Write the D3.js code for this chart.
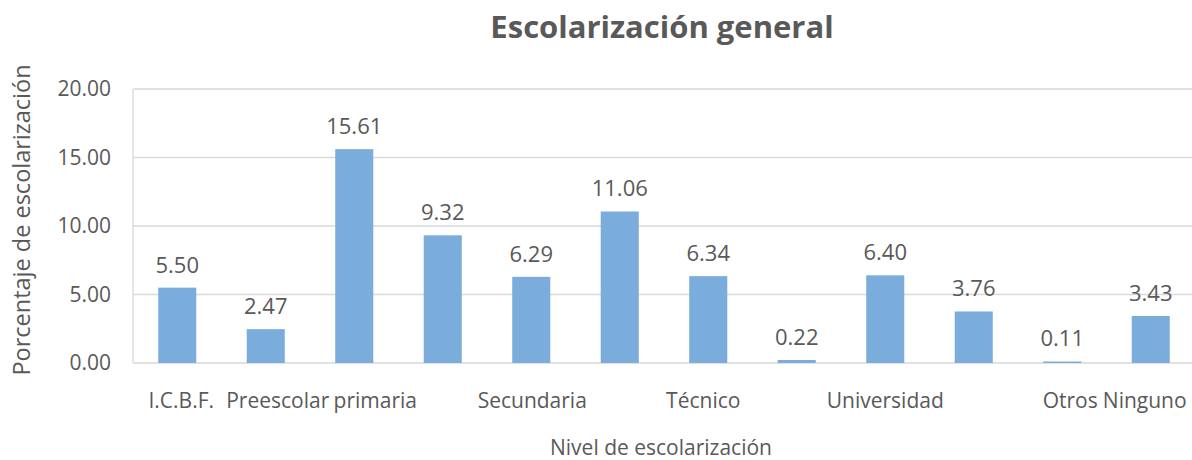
<!DOCTYPE html>
<html>
<head>
<meta charset="utf-8">
<script src="https://cdn.jsdelivr.net/npm/d3@7"></script>
<style>
body { margin: 0; background: #fff; }
text { font-family: "Open Sans", Lato, sans-serif; fill: #595959; }
</style>
</head>
<body>
<svg id="chart" width="1192" height="460"></svg>
<script>
// categorias (las vacias no muestran etiqueta en el original)
var categories = ["I.C.B.F.", "Preescolar", "primaria", "", "Secundaria", "", "Técnico", "", "Universidad", "", "Otros", "Ninguno"];
var values = [5.50, 2.47, 15.61, 9.32, 6.29, 11.06, 6.34, 0.22, 6.40, 3.76, 0.11, 3.43];
var yTicks = [0, 5, 10, 15, 20];

var svg = d3.select("#chart"),
    margin = {top: 89, left: 133},
    plotW = 1062,
    plotH = 274;

var g = svg.append("g")
    .attr("transform", "translate(" + margin.left + "," + margin.top + ")");

var x = d3.scaleBand()
    .domain(d3.range(values.length))
    .range([0, plotW])
    .paddingInner(0.57)
    .paddingOuter(0.285);

var y = d3.scaleLinear()
    .domain([0, 20])
    .range([plotH, 0]);

// grid
g.selectAll(".grid")
    .data(yTicks)
    .enter().append("line")
    .attr("x1", 0)
    .attr("x2", plotW)
    .attr("y1", function(d) { return y(d); })
    .attr("y2", function(d) { return y(d); })
    .attr("stroke", "#d9d9d9")
    .attr("stroke-width", 1.3);

g.append("line")
    .attr("x1", 0).attr("x2", 0)
    .attr("y1", 0).attr("y2", plotH)
    .attr("stroke", "#d9d9d9")
    .attr("stroke-width", 1.3);

// y axis labels
var yAxis = d3.axisLeft(y)
    .tickValues(yTicks)
    .tickFormat(d3.format(".2f"))
    .tickSize(0)
    .tickPadding(22);

g.append("g")
    .call(yAxis)
    .call(function(a) { a.select(".domain").remove(); })
    .selectAll("text")
    .style("font-size", "21px")
    .style("font-family", "'Open Sans', sans-serif")
    .attr("fill", "#595959");

// bars
g.selectAll(".bar")
    .data(values)
    .enter().append("rect")
    .attr("x", function(d, i) { return x(i); })
    .attr("y", function(d) { return y(d); })
    .attr("width", x.bandwidth())
    .attr("height", function(d) { return plotH - y(d); })
    .attr("fill", "#7aacdc");

g.selectAll(".val")
    .data(values)
    .enter().append("text")
    .attr("x", function(d, i) { return x(i) + x.bandwidth() / 2; })
    .attr("y", function(d) { return y(d) - 15; })
    .attr("text-anchor", "middle")
    .style("font-size", "22px")
    .text(function(d) { return d3.format(".2f")(d); });

// etiquetas de categoria, con el corrimiento que tienen en el original
var labelDx = [4, 12, 21, 0, 1, 0, -5, 0, 0, 0, 8, -6];
g.selectAll(".cat")
    .data(categories)
    .enter().append("text")
    .attr("x", function(d, i) { return x(i) + x.bandwidth() / 2 + labelDx[i]; })
    .attr("y", plotH + 45)
    .attr("text-anchor", "middle")
    .style("font-size", "21px")
    .text(function(d) { return d; });

// titles
svg.append("text")
    .attr("x", 662)
    .attr("y", 38)
    .attr("text-anchor", "middle")
    .style("font-size", "31px")
    .style("font-weight", "bold")
    .text("Escolarización general");

svg.append("text")
    .attr("x", 661)
    .attr("y", 455)
    .attr("text-anchor", "middle")
    .style("font-size", "21px")
    .text("Nivel de escolarización");

svg.append("text")
    .attr("transform", "translate(30,220) rotate(-90)")
    .attr("text-anchor", "middle")
    .style("font-size", "23.5px")
    .text("Porcentaje de escolarización");
</script>
</body>
</html>
